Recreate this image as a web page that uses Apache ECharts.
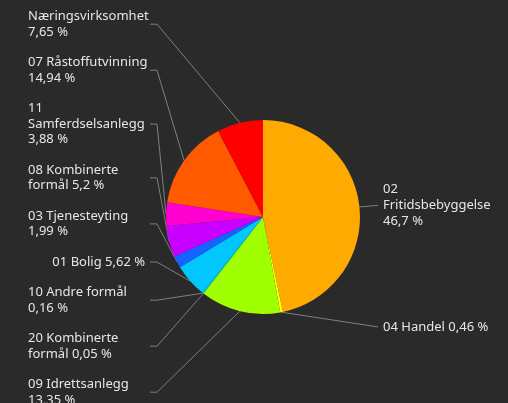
<!DOCTYPE html>
<html>
<head>
<meta charset="utf-8">
<script src="https://cdn.jsdelivr.net/npm/echarts@6/dist/echarts.min.js"></script>
<style>
html, body { margin: 0; padding: 0; background: #2a2a2a; }
#main { width: 508px; height: 403px; }
</style>
</head>
<body>
<div id="main"></div>
<script>
// data, clockwise from 12 o'clock
var categories = ['02 Fritidsbebyggelse', '04 Handel', '09 Idrettsanlegg', '20 Kombinerte formål',
    '10 Andre formål', '01 Bolig', '03 Tjenesteyting', '08 Kombinerte formål',
    '11 Samferdselsanlegg', '07 Råstoffutvinning', 'Næringsvirksomhet'];
var values = [46.7, 0.46, 13.35, 0.05, 0.16, 5.62, 1.99, 5.2, 3.88, 14.94, 7.65];
var colors = ['#FFAA00', '#FFFF00', '#A0FF00', '#40FF90', '#00E8D0', '#00C8FF',
    '#1464FF', '#C800FF', '#FF00D0', '#FF5A00', '#FF0000'];

var FONT = 13, FAMILY = 'Noto Sans', LINE_H = 15.7, GAP = 14.6, WRAP_W = 120;
var cx = 263, cy = 217, R = 97;

var ctx = document.createElement('canvas').getContext('2d');
ctx.font = FONT + 'px "' + FAMILY + '"';
function wrap(str) {
    var words = str.split(' '), lines = [], cur = '';
    words.forEach(function (w) {
        var t = cur ? cur + ' ' + w : w;
        if (cur && ctx.measureText(t).width > WRAP_W) { lines.push(cur); cur = w; }
        else cur = t;
    });
    lines.push(cur);
    return lines;
}

var total = values.reduce(function (a, b) { return a + b; }, 0);
var labels = [], layout = [], acc = 0;
values.forEach(function (v, i) {
    var lines = wrap(categories[i] + ' ' + String(v).replace('.', ',') + ' %');
    var th = (acc + v / 2) / total * 2 * Math.PI;
    acc += v;
    labels.push(lines.join('\n'));
    layout.push({ lines: lines.length, th: th,
        ex: cx + R * Math.sin(th), ey: cy - R * Math.cos(th) });
});

// right side: straight line out, left side: stacked column
layout.forEach(function (L) {
    if (Math.sin(L.th) >= 0) {
        L.y = cy - R * 1.155 * Math.cos(L.th);
        L.x = 383; L.align = 'left';
        L.pts = [[L.ex, L.ey], [378, L.y]];
    }
});
var leftIdx = layout.map(function (L, i) { return i; })
    .filter(function (i) { return Math.sin(layout[i].th) < 0; })
    .sort(function (a, b) { return b - a; });
var yTop = 8.5;
leftIdx.forEach(function (i) {
    var L = layout[i], h = L.lines * LINE_H;
    L.y = yTop + h / 2;
    yTop += h + GAP;
    if (L.lines > 1) { L.x = 28; L.align = 'left'; }
    else { L.x = 145; L.align = 'right'; }
    L.pts = [[L.ex, L.ey], [157, L.y], [150, L.y]];
});

var chart = echarts.init(document.getElementById('main'));
chart.setOption({
    backgroundColor: '#2a2a2a',
    animation: false,
    series: [{
        type: 'pie',
        center: [cx, cy],
        radius: R,
        startAngle: 90,
        clockwise: true,
        avoidLabelOverlap: false,
        data: categories.map(function (c, i) {
            return { name: c, value: values[i], itemStyle: { color: colors[i] } };
        }),
        itemStyle: { borderWidth: 0 },
        label: {
            show: true,
            position: 'outside',
            color: '#e6e6e6',
            fontFamily: FAMILY,
            fontSize: FONT,
            lineHeight: LINE_H,
            formatter: function (p) { return labels[p.dataIndex]; }
        },
        labelLine: {
            show: true,
            length: 10,
            length2: 10,
            lineStyle: { color: '#7f7f7f', width: 1 }
        },
        labelLayout: function (p) {
            var L = layout[p.dataIndex];
            return { x: L.x, y: L.y, align: L.align, verticalAlign: 'middle',
                labelLinePoints: L.pts };
        },
        emphasis: { disabled: true }
    }]
});
</script>
</body>
</html>
